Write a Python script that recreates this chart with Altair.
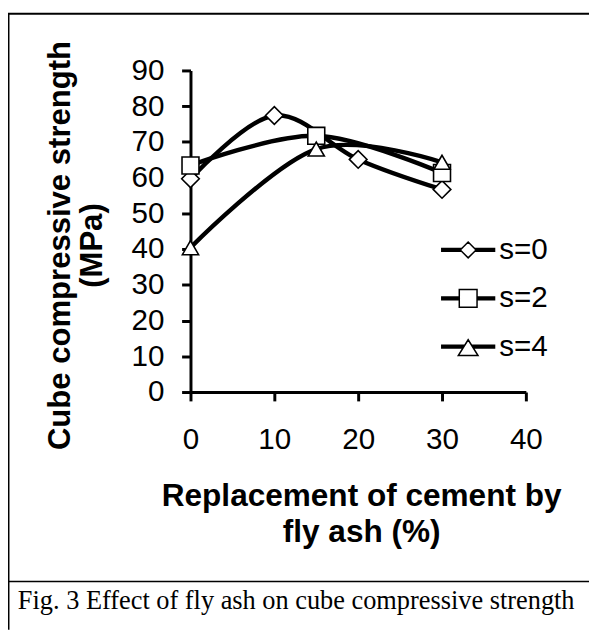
import altair as alt
import pandas as pd

# ---- data ----
series_names = ["s=0", "s=2", "s=4"]
x_s0 = [0, 10, 20, 30]
y_s0 = [59.7, 77.4, 65.1, 56.7]
x_s2 = [0, 15, 30]
y_s2 = [63.4, 71.7, 61.3]
x_s4 = [0, 15, 30]
y_s4 = [40.4, 68.0, 64.3]
x_ticks = [0, 10, 20, 30, 40]
y_ticks = [0, 10, 20, 30, 40, 50, 60, 70, 80, 90]

rows = []
for name, xs, ys in zip(series_names, [x_s0, x_s2, x_s4], [y_s0, y_s2, y_s4]):
    for xv, yv in zip(xs, ys):
        rows.append({"series": name, "x": xv, "y": yv})
df = pd.DataFrame(rows)

W, H = 340, 326
PAD = {"left": 185, "top": 59, "right": 64, "bottom": 241}

x_enc = alt.X("x:Q", scale=alt.Scale(domain=[0, 40], nice=False),
              axis=alt.Axis(values=x_ticks, title=["Replacement of cement by", "fly ash (%)"],
                            titleX=173, titleY=115, titleAnchor="middle", titleAlign="center",
                            titleBaseline="alphabetic", titleLineHeight=37, titleFontSize=32,
                            labelOverlap=False))
y_enc = alt.Y("y:Q", scale=alt.Scale(domain=[0, 90], nice=False),
              axis=alt.Axis(values=y_ticks, title=["Cube compressive  strength", "(MPa)"],
                            titleX=-123, titleY=177, titleAngle=-90, titleAlign="center",
                            titleBaseline="alphabetic", titleLineHeight=33, labelOverlap=False))

lines = alt.Chart(df).mark_line(interpolate="cardinal", color="black", strokeWidth=4.5).encode(
    x=x_enc, y=y_enc, detail="series:N", order="x:Q")

points = alt.Chart(df).mark_point(filled=False, strokeWidth=1.6, opacity=1).encode(
    x=x_enc, y=y_enc,
    fill=alt.value("white"), stroke=alt.value("black"),
    shape=alt.Shape("series:N", scale=alt.Scale(domain=series_names, range=["diamond", "square", "triangle-up"]), legend=None),
    size=alt.Size("series:N", scale=alt.Scale(domain=series_names, range=[320, 270, 340]), legend=None),
)

# legend symbols: marker with line stubs (unit box scaled by sqrt(size)/2 = 20px)
def stubs(r_in_top, r_in_mid, r_in_bot):
    return (f"M-1.375,-0.07H-{r_in_top}M-1.375,0H-{r_in_mid}M-1.375,0.07H-{r_in_bot}"
            f"M{r_in_top},-0.07H1.375M{r_in_mid},0H1.375M{r_in_bot},0.07H1.375")

leg_diamond = "M0,-0.4L0.4,0L0,0.4L-0.4,0Z " + stubs(0.34, 0.4, 0.34)
leg_square = "M-0.45,-0.45H0.45V0.45H-0.45Z " + stubs(0.45, 0.45, 0.45)
leg_triangle = "M0,-0.35L0.5,0.45H-0.5Z " + stubs(0.175, 0.219, 0.2625)

legend_layer = alt.Chart(df).transform_filter("datum.x < -1000").mark_point(
    filled=False, strokeWidth=1.5).encode(
    x=x_enc, y=y_enc,
    fill=alt.value("white"), stroke=alt.value("black"),
    shape=alt.Shape("series:N",
                    scale=alt.Scale(domain=series_names, range=[leg_diamond, leg_square, leg_triangle]),
                    legend=alt.Legend(title=None, orient="none", legendX=260.5, legendY=161,
                                      symbolSize=1600, symbolStrokeWidth=1.5, symbolOpacity=1,
                                      labelFont="Liberation Sans", labelFontSize=30, labelColor="black",
                                      labelOffset=10.5, rowPadding=13, padding=0)),
)

deco = alt.Data(values=[{"k": 1}])
left_border = alt.Chart(deco).mark_rule(color="black", strokeWidth=2).encode(
    x=alt.value(-184.5), y=alt.value(-58), y2=alt.value(567))
top_border = alt.Chart(deco).mark_rule(color="black", strokeWidth=2).encode(
    x=alt.value(-185), x2=alt.value(404), y=alt.value(-57.5))
sep_line = alt.Chart(deco).mark_rule(color="black", strokeWidth=1.5).encode(
    x=alt.value(-185), x2=alt.value(404), y=alt.value(518))
caption = alt.Chart(deco).mark_text(align="left", baseline="alphabetic", font="Liberation Serif",
                                    fontSize=26.7, color="black").encode(
    x=alt.value(-175), y=alt.value(546),
    text=alt.value("Fig. 3 Effect of fly ash on cube compressive strength"))

chart = alt.layer(lines, points, legend_layer, left_border, top_border, sep_line, caption).resolve_scale(
    shape="independent", size="independent"
).properties(
    width=W, height=H, padding=PAD, autosize=alt.AutoSizeParams(type="none"), background="white"
).configure_view(stroke=None).configure_axis(
    grid=False, domainColor="black", domainWidth=3, tickColor="black", tickWidth=3, tickSize=9,
    labelFont="Liberation Sans", labelFontSize=30, labelColor="black", labelPadding=6,
    titleFont="Liberation Sans", titleFontSize=31.5, titleFontWeight="bold", titleColor="black",
).configure_axisX(labelPadding=24, labelFlush=False).configure_axisY(labelPadding=18)

chart.save("out.html", embed_options={"renderer": "svg", "actions": False})
